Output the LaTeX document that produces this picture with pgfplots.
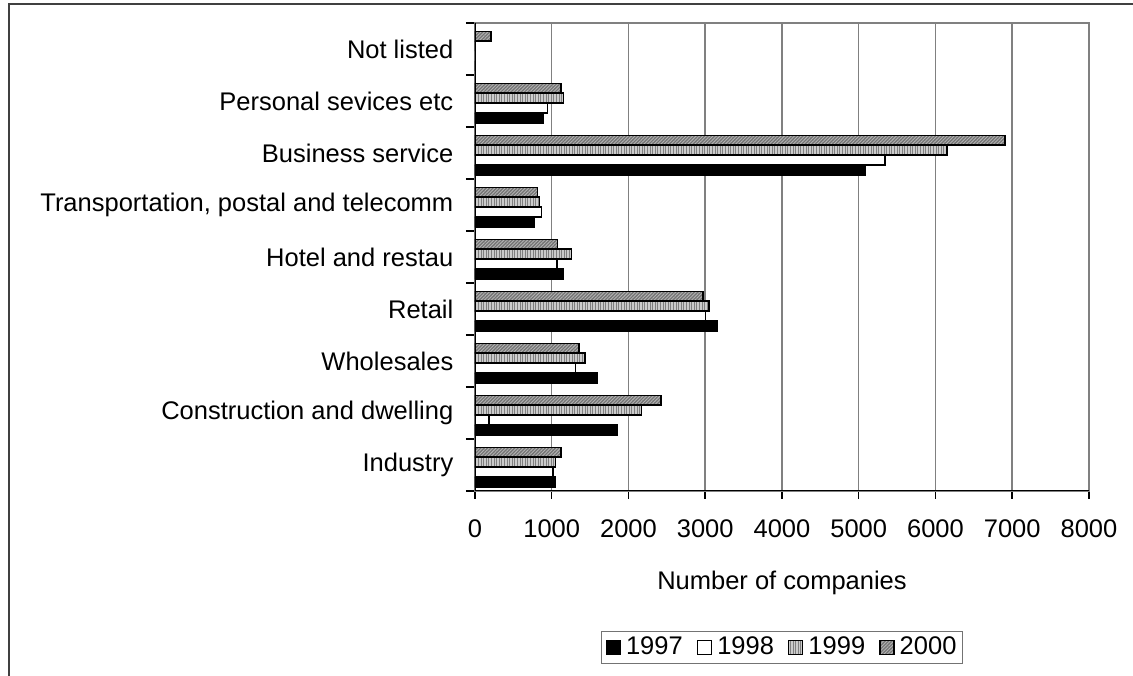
\documentclass[border=0pt]{standalone}
\usepackage{fontspec}
\setmainfont{Liberation Sans}
\usepackage{pgfplots}
\pgfplotsset{compat=1.18}
\usetikzlibrary{patterns.meta}
\begin{document}
\fontsize{25.5}{30}\selectfont
\begin{tikzpicture}
\path[use as bounding box] (0pt,0pt) rectangle (1133pt,676pt);
\draw[black!75, line width=2pt] (9pt,0pt) -- (9pt,672pt) -- (1133pt,672pt);
\begin{axis}[
  at={(475pt,185pt)}, anchor=south west,
  width=614pt, height=468pt, scale only axis,
  xmin=0, xmax=8000, ymin=-0.5, ymax=8.5,
  xtick={0,1000,...,8000},
  xtick pos=lower, ytick pos=left,
  /pgf/number format/assume math mode=true,
  /pgf/number format/1000 sep={},
  xticklabel style={font=\fontsize{25.5}{30}\selectfont, yshift=-12pt},
  ytick={0,...,8},
  yticklabels={Industry,Construction and dwelling,Wholesales,Retail,Hotel and restau,{Transportation, postal and telecomm},Business service,Personal sevices etc,Not listed},
  yticklabel style={font=\fontsize{25.5}{30}\selectfont, xshift=-5pt},
  minor ytick={-0.5,0.5,...,8.5},
  tick align=outside,
  major tick length=8pt,
  minor tick length=9pt,
  x tick style={black, line width=1.5pt},
  y tick style={draw=none},
  minor y tick style={draw=black, line width=1.5pt},
  xmajorgrids,
  major x grid style={draw=black!50, line width=1.5pt},
  axis line style={draw=black!50, line width=1.5pt},
  xlabel={Number of companies},
  xlabel style={font=\fontsize{25.5}{30}\selectfont, yshift=-16pt},
  xbar,
  bar width=0.19,
  legend columns=4,
  legend style={at={(0.5,-0.3344)}, anchor=center, draw=black!55, line width=1.2pt,
    font=\fontsize{25.5}{30}\selectfont, inner xsep=4pt, inner ysep=3pt,
    /tikz/every odd column/.append style={column sep=3pt},
    /tikz/every even column/.append style={column sep=12pt}},
  legend image code/.code={\draw[#1, line width=1.5pt] (0pt,-7pt) rectangle (14pt,7pt);},
]
\addplot[draw=black, line width=1.6pt, fill=black, bar shift=-0.325] coordinates {
(1051,0) (1859,1) (1594,2) (3162,3) (1155,4) (765,5) (5090,6) (895,7) (0,8)};
\addplot[draw=black, line width=1.6pt, fill=white, bar shift=-0.135] coordinates {
(1016,0) (182,1) (1308,2) (3001,3) (1068,4) (864,5) (5342,6) (943,7) (0,8)};
\addplot[draw=black, line width=1.6pt, fill=black!20, bar shift=0.055,
  postaction={pattern={Lines[angle=90,distance=2.6pt,line width=1pt]}, pattern color=black!50}] coordinates {
(1047,0) (2167,1) (1433,2) (3049,3) (1255,4) (838,5) (6150,6) (1151,7) (0,8)};
\addplot[draw=black, line width=1.6pt, fill=black!55, bar shift=0.245,
  postaction={pattern={Lines[angle=45,distance=2.4pt,line width=0.9pt]}, pattern color=black!30}] coordinates {
(1120,0) (2423,1) (1355,2) (2971,3) (1073,4) (812,5) (6906,6) (1117,7) (208,8)};
\legend{1997,1998,1999,2000}
\draw[black, line width=1.5pt] (rel axis cs:0,1) -- (rel axis cs:0,0) -- (rel axis cs:1,0);
\end{axis}
\end{tikzpicture}
\end{document}
